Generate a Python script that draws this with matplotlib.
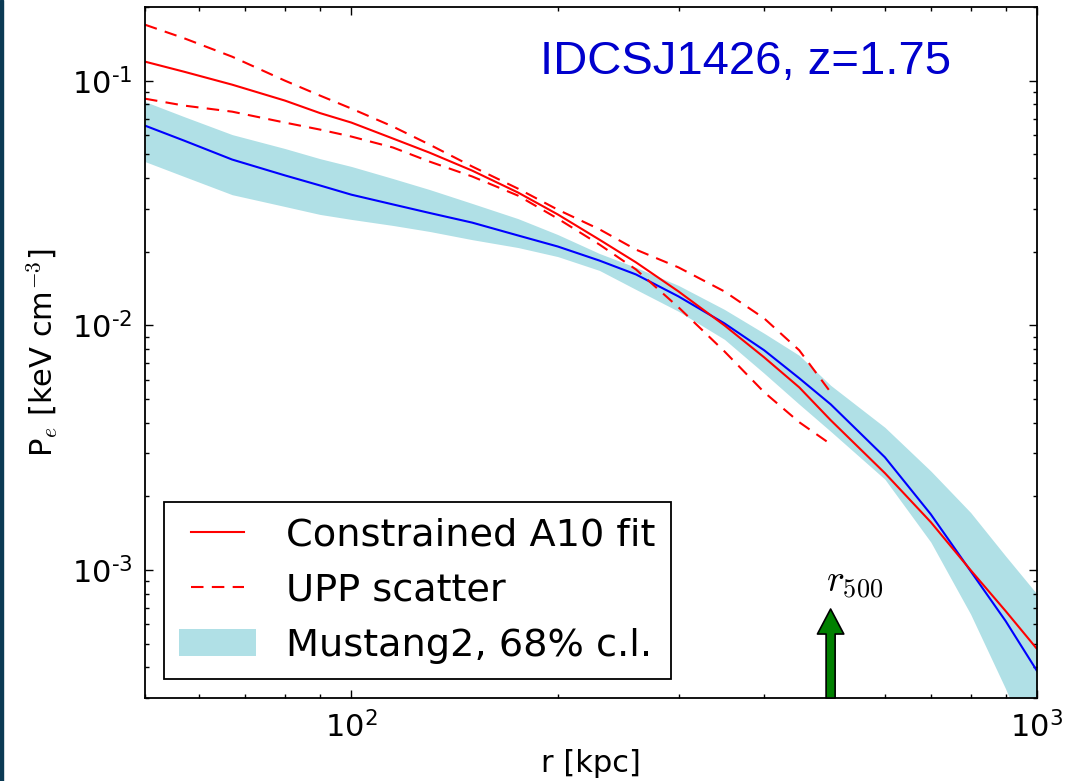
import numpy as np
import matplotlib
matplotlib.use('Agg')
from matplotlib import pyplot as plt
from matplotlib.patches import Rectangle
from matplotlib.ticker import FuncFormatter, LogLocator

plt.rcParams['font.family'] = ['DejaVu Sans']
plt.rcParams['mathtext.fontset'] = 'cm'

# radius grid [kpc]
r = [50, 57, 67, 80, 90, 100, 115, 130, 150, 175, 200, 230, 260, 300, 350, 400, 450, 500,
     600, 700, 800, 900, 1000]

# constrained A10 fit
a10_fit = [0.1196, 0.1088, 0.0963, 0.0829, 0.0737, 0.0674, 0.0580, 0.0508, 0.0429, 0.0349,
           0.0284, 0.0224, 0.0181, 0.01376, 0.0100, 0.00740, 0.00558, 0.00410,
           0.00249, 0.00157, 0.00100, 0.000680, 0.000476]

# Mustang2 best fit and 68% band
m2_fit = [0.0655, 0.0569, 0.0476, 0.0410, 0.0373, 0.0342, 0.0312, 0.0288, 0.0263, 0.0233,
          0.0210, 0.0184, 0.01615, 0.01313, 0.01019, 0.00791, 0.00608, 0.00476,
          0.00289, 0.00169, 0.000991, 0.000619, 0.000387]
m2_hi = [0.0821, 0.0713, 0.0602, 0.0528, 0.0480, 0.0446, 0.0398, 0.0359, 0.0315, 0.0273,
         0.0235, 0.01967, 0.01725, 0.01456, 0.01162, 0.00928, 0.00754, 0.00569,
         0.00383, 0.00254, 0.00172, 0.001141, 0.000798]
m2_lo = [0.0467, 0.0406, 0.0342, 0.0306, 0.0284, 0.0271, 0.0256, 0.0242, 0.0224, 0.0208,
         0.0191, 0.01677, 0.01402, 0.01141, 0.00877, 0.00637, 0.00476, 0.00369,
         0.00235, 0.001301, 0.000661, 0.000327, 0.000161]

# UPP scatter (only out to r500)
r_upp = r[:18]
upp_hi = [0.1693, 0.1491, 0.1253, 0.1000, 0.0869, 0.0769, 0.0649, 0.0548, 0.0446, 0.0362,
          0.0297, 0.0247, 0.0204, 0.01725, 0.01376, 0.01068, 0.00791, 0.00533]
upp_lo = [0.0844, 0.0791, 0.0747, 0.0674, 0.0631, 0.0591, 0.0533, 0.0467, 0.0406, 0.0339,
          0.0273, 0.0214, 0.01693, 0.01185, 0.00783, 0.00533, 0.00402, 0.00327]

r500 = 500

fig = plt.figure(figsize=(10.65, 7.81), dpi=100)
ax = fig.add_axes([145/1065, 1-698/781, 892/1065, 691/781])

ax.fill_between(r, m2_lo, m2_hi, color='powderblue', lw=0, label='Mustang2, 68% c.l.')
ax.plot(r, m2_fit, color='blue', lw=1.5)
ax.plot(r, a10_fit, color='red', lw=1.5, label='Constrained A10 fit')
ax.plot(r_upp, upp_hi, color='red', lw=1.5, ls=(0, (6, 4)), label='UPP scatter')
ax.plot(r_upp, upp_lo, color='red', lw=1.5, ls=(0, (6, 4)))

ax.set_xscale('log')
ax.set_yscale('log')
ax.set_xlim(50, 1000)
ax.set_ylim(3e-4, 0.2)

# r500 arrow
ax.annotate('', xy=(r500, 6.93e-4), xytext=(r500, 3e-4),
            arrowprops=dict(facecolor='green', edgecolor='black', lw=1.2,
                            width=6.5, headwidth=19, headlength=18, shrink=0))
ax.text(492, 8.1e-4, r'$r_{500}$', fontsize=27, ha='left', va='baseline')

ax.text(0.673, 0.92, 'IDCSJ1426, z=1.75', transform=ax.transAxes, color='mediumblue',
        fontsize=34, family='Liberation Sans', ha='center', va='center')

def sup(v, pos):
    e = int(round(np.log10(v)))
    return '$\\mathdefault{10^{%s}}$' % str(e).replace('-', '\u2010')

ax.xaxis.set_major_locator(LogLocator(base=10))
ax.yaxis.set_major_locator(LogLocator(base=10))
ax.xaxis.set_major_formatter(FuncFormatter(sup))
ax.yaxis.set_major_formatter(FuncFormatter(sup))
ax.tick_params(which='both', direction='in', top=True, right=True, labelsize=22)
ax.tick_params(which='major', length=6, width=1, pad=9)
ax.tick_params(which='minor', length=3, width=1)
for s in ax.spines.values():
    s.set_linewidth(1.3)

ax.set_xlabel('r [kpc]', fontsize=22, labelpad=4)
ax.set_ylabel(r'P$_e$ [keV cm$^{-3}$]', fontsize=22, labelpad=8)

h, l = ax.get_legend_handles_labels()
order = [1, 2, 0]
leg = ax.legend([h[i] for i in order], [l[i] for i in order], loc='lower left',
                fontsize=27.5, numpoints=2, handlelength=2.0, fancybox=False,
                borderaxespad=0.5, framealpha=1)
leg.get_frame().set_edgecolor('black')
leg.get_frame().set_linewidth(1.3)

# dark strip at the left border of the screenshot
fig.patches.append(Rectangle((0, 0), 3/1065, 1, transform=fig.transFigure, color='#0b3a54'))

plt.savefig('out.png', dpi=100)
